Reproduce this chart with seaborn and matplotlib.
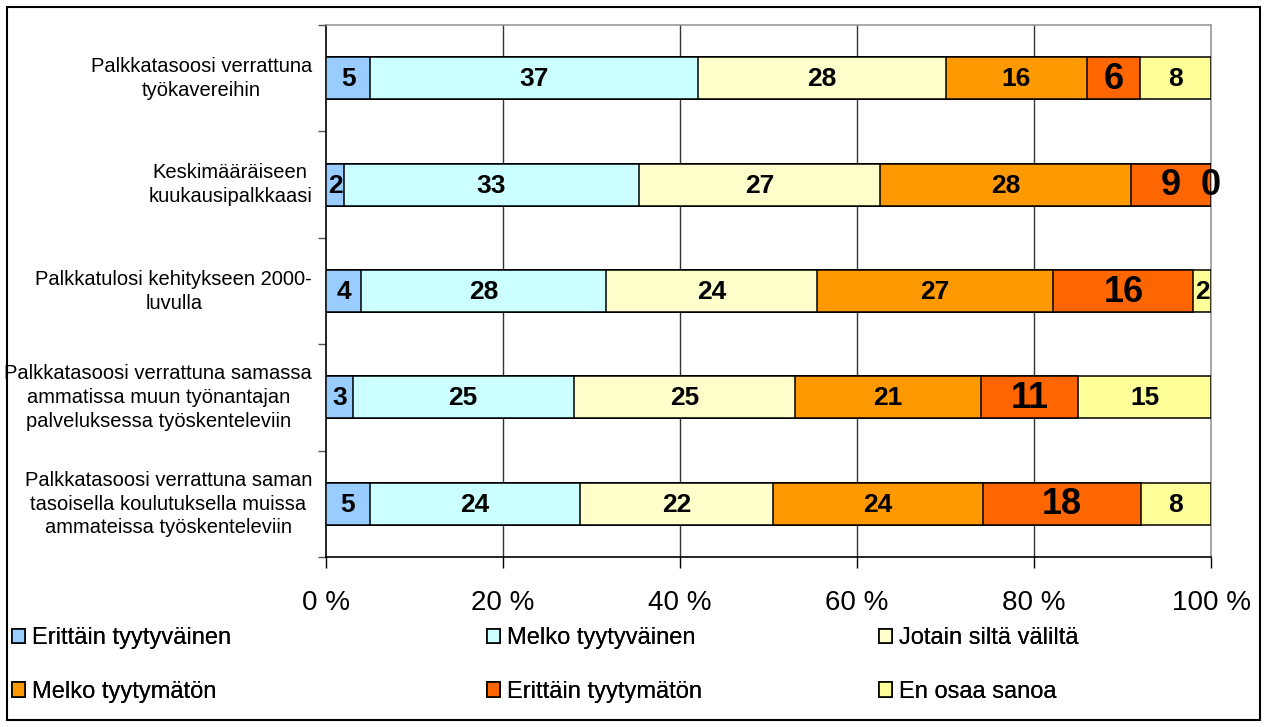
import pandas as pd
import numpy as np
import matplotlib.pyplot as plt
import seaborn as sns
from matplotlib.patches import Patch, Rectangle

# Kysymykset (rivit ylhäältä alas)
kysymykset = [
    "Palkkatasoosi verrattuna\ntyökavereihin",
    "Keskimääräiseen\nkuukausipalkkaasi",
    "Palkkatulosi kehitykseen 2000-\nluvulla",
    "Palkkatasoosi verrattuna samassa\nammatissa muun työnantajan\npalveluksessa työskenteleviin",
    "Palkkatasoosi verrattuna saman\ntasoisella koulutuksella muissa\nammateissa työskenteleviin",
]

vastaukset = [
    "Erittäin tyytyväinen",
    "Melko tyytyväinen",
    "Jotain siltä väliltä",
    "Melko tyytymätön",
    "Erittäin tyytymätön",
    "En osaa sanoa",
]

erittain_tyytyvainen = [5, 2, 4, 3, 5]
melko_tyytyvainen = [37, 33, 28, 25, 24]
jotain_silta_valilta = [28, 27, 24, 25, 22]
melko_tyytymaton = [16, 28, 27, 21, 24]
erittain_tyytymaton = [6, 9, 16, 11, 18]
en_osaa_sanoa = [8, 0, 2, 15, 8]

x_ticks = [0, 20, 40, 60, 80, 100]

colors = ["#99CCFF", "#CCFFFF", "#FFFFCC", "#FF9900", "#FF6600", "#FFFF99"]


def main():
    sarjat = [erittain_tyytyvainen, melko_tyytyvainen, jotain_silta_valilta,
              melko_tyytymaton, erittain_tyytymaton, en_osaa_sanoa]

    # Pitkä taulukko + 100 % normalisointi
    rows = []
    for s_name, vals in zip(vastaukset, sarjat):
        for q, v in zip(kysymykset, vals):
            rows.append({"kysymys": q, "vastaus": s_name, "arvo": v})
    df = pd.DataFrame(rows)
    df["vastaus"] = pd.Categorical(df["vastaus"], vastaukset, ordered=True)
    df["kysymys"] = pd.Categorical(df["kysymys"], kysymykset, ordered=True)
    df = df.sort_values(["kysymys", "vastaus"])
    df["pct"] = df["arvo"] / df.groupby("kysymys", observed=True)["arvo"].transform("sum") * 100
    df["cum"] = df.groupby("kysymys", observed=True)["pct"].cumsum()

    sns.set_theme(style="white")
    plt.rcParams["font.family"] = ["Liberation Sans", "DejaVu Sans"]
    plt.rcParams["text.color"] = "black"
    plt.rcParams["xtick.color"] = "black"
    plt.rcParams["ytick.color"] = "black"
    plt.rcParams["axes.labelcolor"] = "black"

    fig = plt.figure(figsize=(12.68, 7.27), dpi=100)
    ax = fig.add_axes([326 / 1268, 1 - 557 / 727, 885 / 1268, 532 / 727])

    # Pinottu pylväs: piirretään kumulatiiviset summat takaperin päällekkäin
    for s_name, col in reversed(list(zip(vastaukset, colors))):
        sub = df[df["vastaus"] == s_name]
        sns.barplot(data=sub, x="cum", y="kysymys", color=col, orient="h",
                    width=0.395, edgecolor="black", linewidth=1.1,
                    saturation=1, errorbar=None, ax=ax, zorder=3)

    # Arvot pylväiden päälle
    for _, r in df.iterrows():
        i = kysymykset.index(r["kysymys"])
        big = r["vastaus"] == "Erittäin tyytymätön" or r["arvo"] == 0
        ax.text(r["cum"] - r["pct"] / 2, i + 0.01, f"{r['arvo']}",
                ha="center", va="center", fontweight="bold",
                fontsize=26 if big else 19, color="black", zorder=5)

    ax.set_xlim(0, 100)
    ax.set_ylim(4.5, -0.5)
    ax.set_xticks(x_ticks)
    ax.set_xticklabels([f"{t} %" for t in x_ticks], fontsize=20)
    ax.tick_params(axis="x", direction="out", length=8, width=1, pad=16,
                   bottom=True, color="black", labelcolor="black")

    # Rajatikit kategorioiden väleihin, nimet keskelle
    ax.set_yticks(np.arange(-0.5, 5, 1))
    ax.set_yticklabels([])
    ax.tick_params(axis="y", which="major", direction="out", length=6,
                   width=1, left=True, color="#555555")
    ax.set_yticks(np.arange(len(kysymykset)) - 0.04, kysymykset, minor=True)
    ax.tick_params(axis="y", which="minor", length=0, pad=10, labelsize=14.5,
                   labelcolor="black")
    for lab in ax.get_yticklabels(minor=True):
        lab.set_multialignment("center")
        lab.set_linespacing(1.33)

    ax.set_xlabel("")
    ax.set_ylabel("")
    ax.grid(False)
    for t in x_ticks[1:]:
        ax.axvline(t, color="#333333", lw=1, zorder=1)

    for side in ["left", "bottom"]:
        ax.spines[side].set_color("black")
        ax.spines[side].set_linewidth(1.2)
    for side in ["top", "right"]:
        ax.spines[side].set_color("#999999")
        ax.spines[side].set_linewidth(1.2)

    # Selite kolmeen sarakkeeseen
    handles = [Patch(facecolor=c, edgecolor="black", linewidth=1.2) for c in colors]
    col_x = [12, 487, 879]
    for k, xpos in enumerate(col_x):
        idx = [k, k + 3]
        leg = fig.legend([handles[j] for j in idx], [vastaukset[j] for j in idx],
                         loc="upper left", bbox_to_anchor=(xpos / 1268, 1 - 627 / 727),
                         frameon=False, fontsize=17, handlelength=0.55,
                         handleheight=0.55, handletextpad=0.3, labelspacing=1.35,
                         borderpad=0, borderaxespad=0)
        for txt in leg.get_texts():
            txt.set_color("black")
        fig.add_artist(leg)

    fig.add_artist(Rectangle((7 / 1268, 7 / 727), 1253 / 1268, 713 / 727,
                             transform=fig.transFigure, fill=False,
                             edgecolor="black", linewidth=1.5))

    fig.savefig("out.png", dpi=100, facecolor="white")
    plt.close(fig)


if __name__ == "__main__":
    main()
